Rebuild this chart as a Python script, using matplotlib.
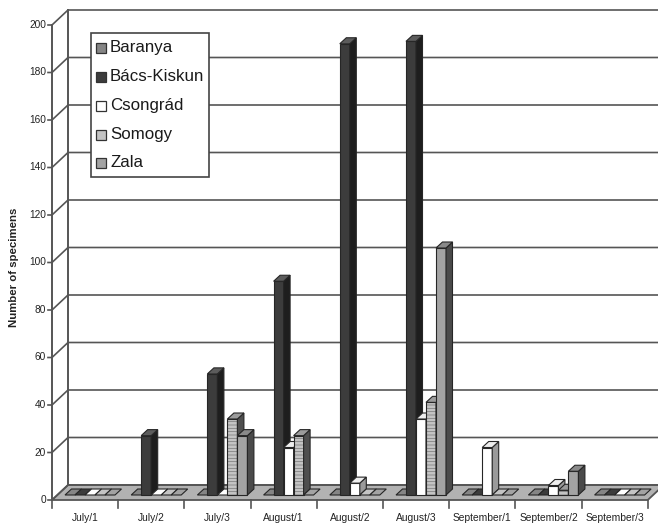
import matplotlib
matplotlib.use("Agg")
import matplotlib.pyplot as plt
from matplotlib.patches import Polygon, Rectangle

plt.rcParams["font.family"] = ["Liberation Sans", "DejaVu Sans"]
plt.rcParams["hatch.linewidth"] = 0.5

periods = ["July/1", "July/2", "July/3", "August/1", "August/2", "August/3",
           "September/1", "September/2", "September/3"]
baranya = [0, 0, 0, 0, 0, 0, 0, 0, 0]
bacs_kiskun = [0, 25, 51, 90, 190, 191, 0, 0, 0]
csongrad = [0, 0, 0, 20, 5, 32, 20, 4, 0]
somogy = [0, 0, 32, 25, 0, 39, 0, 2, 0]
zala = [0, 0, 25, 0, 0, 104, 0, 10, 0]
y_ticks = list(range(0, 201, 20))

names = ["Baranya", "Bács-Kiskun", "Csongrád", "Somogy", "Zala"]
series = [baranya, bacs_kiskun, csongrad, somogy, zala]
# front, side, top
colors = [("#858585", "#4a4a4a", "#a5a5a5"),
          ("#3c3c3c", "#1e1e1e", "#5c5c5c"),
          ("#ffffff", "#9a9a9a", "#eeeeee"),
          ("#c4c4c4", "#4f4f4f", "#9c9c9c"),
          ("#a3a3a3", "#4a4a4a", "#8a8a8a")]
hatches = [None, None, None, "-----", None]
edge = "#262626"

# 1 category = 66.2 px, 1 unit = 2.375 px
px_x = 1 / 66.2
px_y = 1 / 2.375

fig = plt.figure(figsize=(6.58, 5.25), dpi=100)
ax = fig.add_axes([0, 0, 1, 1])
ax.set_xlim(-52 * px_x, 606 * px_x)
ax.set_ylim(-25 * px_y, 500 * px_y)
ax.axis("off")

wall_dx = 16 * px_x
wall_dy = 15 * px_y
right = 606 * px_x
line = "#555555"

# floor
ax.add_patch(Polygon([(0, 0), (9, 0), (9 + wall_dx, wall_dy), (wall_dx, wall_dy)],
                     closed=True, fc="#b2b2b2", ec=line, lw=1.3, zorder=1))

# grid and axes
for v in y_ticks:
    ax.plot([-4 * px_x, 0, wall_dx, right], [v, v, v + wall_dy, v + wall_dy],
            color=line, lw=1.2, zorder=1, solid_joinstyle="miter")
    ax.text(-6 * px_x, v, str(v), ha="right", va="center", fontsize=7.3,
            color="#222222")
ax.plot([0, 0], [0, 200], color=line, lw=1.4, zorder=1)
ax.plot([wall_dx, wall_dx], [wall_dy, 200 + wall_dy], color=line, lw=1.4, zorder=1)

for i in range(10):
    ax.plot([i, i], [0, -8 * px_y], color=line, lw=1.2, zorder=1)
for i, p in enumerate(periods):
    ax.text(i + 0.5, -18 * px_y, p, ha="center", va="center", fontsize=7.4,
            color="#222222")

ax.text(14 * px_x - 52 * px_x, 98, "Number of specimens", rotation=90, ha="center",
        va="center", fontsize=8.2, fontweight="bold", color="#222222")

# bars
bw = 10 * px_x
dx = 6.5 * px_x
dy = 6 * px_y
base = 5 * px_y
for i in range(len(periods)):
    for j, vals in enumerate(series):
        x0 = i + 13 * px_x + j * bw
        top = base + vals[i]
        front, side, cap = colors[j]
        z = 3 + i * 5 + j
        if vals[i] > 0:
            if hatches[j]:
                ax.add_patch(Rectangle((x0, base), bw, vals[i], fc=front, ec="#777777",
                                       lw=0, hatch=hatches[j], zorder=z))
                ax.add_patch(Rectangle((x0, base), bw, vals[i], fc="none", ec=edge,
                                       lw=0.8, zorder=z))
            else:
                ax.add_patch(Rectangle((x0, base), bw, vals[i], fc=front, ec=edge, lw=0.8,
                                       zorder=z))
            ax.add_patch(Polygon([(x0 + bw, base), (x0 + bw + dx, base + dy),
                                  (x0 + bw + dx, top + dy), (x0 + bw, top)],
                                 closed=True, fc=side, ec=edge, lw=0.8, zorder=z))
        ax.add_patch(Polygon([(x0, top), (x0 + bw, top), (x0 + bw + dx, top + dy),
                              (x0 + dx, top + dy)],
                             closed=True, fc=cap if vals[i] > 0 else front, ec=edge,
                             lw=0.8, zorder=z))

# legend box
lx = (91 - 52) * px_x
ax.add_patch(Rectangle((lx, (500 - 177) * px_y), 118 * px_x, 144 * px_y, fc="white",
                       ec="#444444", lw=1.2, zorder=60))
for j, (name, py) in enumerate(zip(names, [48, 77, 106, 135, 163])):
    ax.add_patch(Rectangle(((96 - 52) * px_x, (500 - py - 5) * px_y), 10 * px_x, 10 * px_y,
                           fc=colors[j][0], ec="#333333", lw=0.9, zorder=61))
    ax.text((110 - 52) * px_x, (500 - py) * px_y, name, ha="left", va="center",
            fontsize=12.2, color="#1a1a1a", zorder=61)

fig.savefig("out.png", dpi=100)
